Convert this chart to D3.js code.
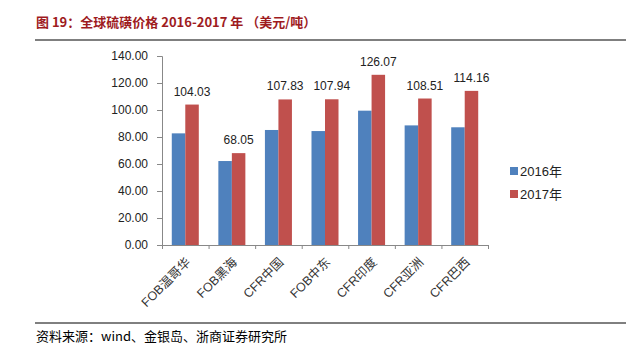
<!DOCTYPE html>
<html>
<head>
<meta charset="utf-8">
<script src="https://d3js.org/d3.v7.min.js"></script>
<style>
  body { margin: 0; background: #fff; }
  text { font-family: "Liberation Sans", "Noto Sans CJK SC", sans-serif; }
</style>
</head>
<body>
<div id="chart"></div>
<script>
// Data
const categories = ["FOB温哥华", "FOB黑海", "CFR中国", "FOB中东", "CFR印度", "CFR亚洲", "CFR巴西"];
const series = ["2016年", "2017年"];
const values2016 = [82.7, 62.2, 85.2, 84.4, 99.5, 88.6, 87.2];
const values2017 = [104.03, 68.05, 107.83, 107.94, 126.07, 108.51, 114.16];
const yTicks = [0, 20, 40, 60, 80, 100, 120, 140];
const colors = ["#4f81bd", "#c0504d"];

const W = 642, H = 353;
const svg = d3.select("#chart").append("svg")
  .attr("width", W).attr("height", H);

// Title and rules
svg.append("text")
  .attr("x", 36).attr("y", 27)
  .attr("fill", "#9e1b1e")
  .attr("font-size", 13).attr("font-weight", "bold")
  .style("font-family", "'Noto Sans CJK SC', sans-serif")
  .style("white-space", "pre")
  .text("图 19：全球硫磺价格 2016-2017 年 （美元/吨）");
svg.append("line").attr("x1", 35).attr("x2", 626).attr("y1", 40).attr("y2", 40)
  .attr("stroke", "#000").attr("stroke-width", 1.2);
svg.append("line").attr("x1", 35).attr("x2", 626).attr("y1", 323).attr("y2", 323)
  .attr("stroke", "#000").attr("stroke-width", 1);
svg.append("text")
  .attr("x", 36).attr("y", 341)
  .attr("fill", "#000").attr("font-size", 13)
  .style("font-family", "'Noto Sans CJK SC', serif")
  .text("资料来源：wind、金银岛、浙商证券研究所");

// Plot
const pLeft = 162, pRight = 488, pTop = 56, pBottom = 245;
const x = d3.scaleBand().domain(categories).range([pLeft, pRight]).paddingInner(0.42).paddingOuter(0.21);
const xs = d3.scaleBand().domain(series).range([0, x.bandwidth()]);
const y = d3.scaleLinear().domain([0, 140]).range([pBottom, pTop]);

const g = svg.append("g");

// Y axis
const yAxis = g.append("g")
  .attr("transform", `translate(${pLeft},0)`)
  .call(d3.axisLeft(y).tickValues(yTicks).tickFormat(d3.format(".2f")).tickSize(5).tickPadding(9));
yAxis.select(".domain").attr("stroke", "#888");
yAxis.selectAll(".tick line").attr("stroke", "#888");
yAxis.selectAll("text").attr("font-size", 12).attr("fill", "#222")
  .style("font-family", "'Liberation Sans', sans-serif");

// X axis
const xAxisScale = d3.scalePoint().domain(d3.range(categories.length + 1)).range([pLeft, pRight]);
const xAxis = g.append("g")
  .attr("transform", `translate(0,${pBottom})`)
  .call(d3.axisBottom(xAxisScale).tickFormat("").tickSize(4));
xAxis.select(".domain").attr("stroke", "#888");
xAxis.selectAll(".tick line").attr("stroke", "#888");

// Category labels
g.selectAll(".xlab").data(categories).enter().append("text")
  .attr("class", "xlab")
  .attr("text-anchor", "end")
  .attr("font-size", 12.5).attr("fill", "#333")
  .attr("transform", d => `translate(${x(d) + x.bandwidth() / 2 + 6},${pBottom + 18}) rotate(-45)`)
  .style("font-family", "'Liberation Sans', 'Noto Sans CJK SC', sans-serif")
  .text(d => d);

// Bars
const rows = categories.map((c, i) => ({ c, v: [values2016[i], values2017[i]] }));
const grp = g.selectAll(".grp").data(rows).enter().append("g")
  .attr("transform", d => `translate(${x(d.c)},0)`);
grp.selectAll("rect").data(d => d.v.map((v, k) => ({ s: series[k], v, k }))).enter().append("rect")
  .attr("x", d => xs(d.s))
  .attr("y", d => y(d.v))
  .attr("width", xs.bandwidth())
  .attr("height", d => pBottom - y(d.v))
  .attr("fill", d => colors[d.k]);

// Labels for 2017
grp.append("text")
  .attr("x", d => xs(series[1]) + xs.bandwidth() / 2)
  .attr("y", d => y(d.v[1]) - 9)
  .attr("text-anchor", "middle")
  .attr("font-size", 12).attr("fill", "#222")
  .text(d => d.v[1].toFixed(2));

// Legend
const lg = svg.append("g").attr("transform", "translate(510,167)");
series.forEach((s, i) => {
  lg.append("rect").attr("x", 0).attr("y", i * 23).attr("width", 8).attr("height", 8).attr("fill", colors[i]);
  lg.append("text").attr("x", 10).attr("y", i * 23 + 8.5)
    .attr("font-size", 13).attr("fill", "#222")
    .style("font-family", "'Liberation Sans', 'Noto Sans CJK SC', sans-serif")
    .text(s);
});
</script>
</body>
</html>
